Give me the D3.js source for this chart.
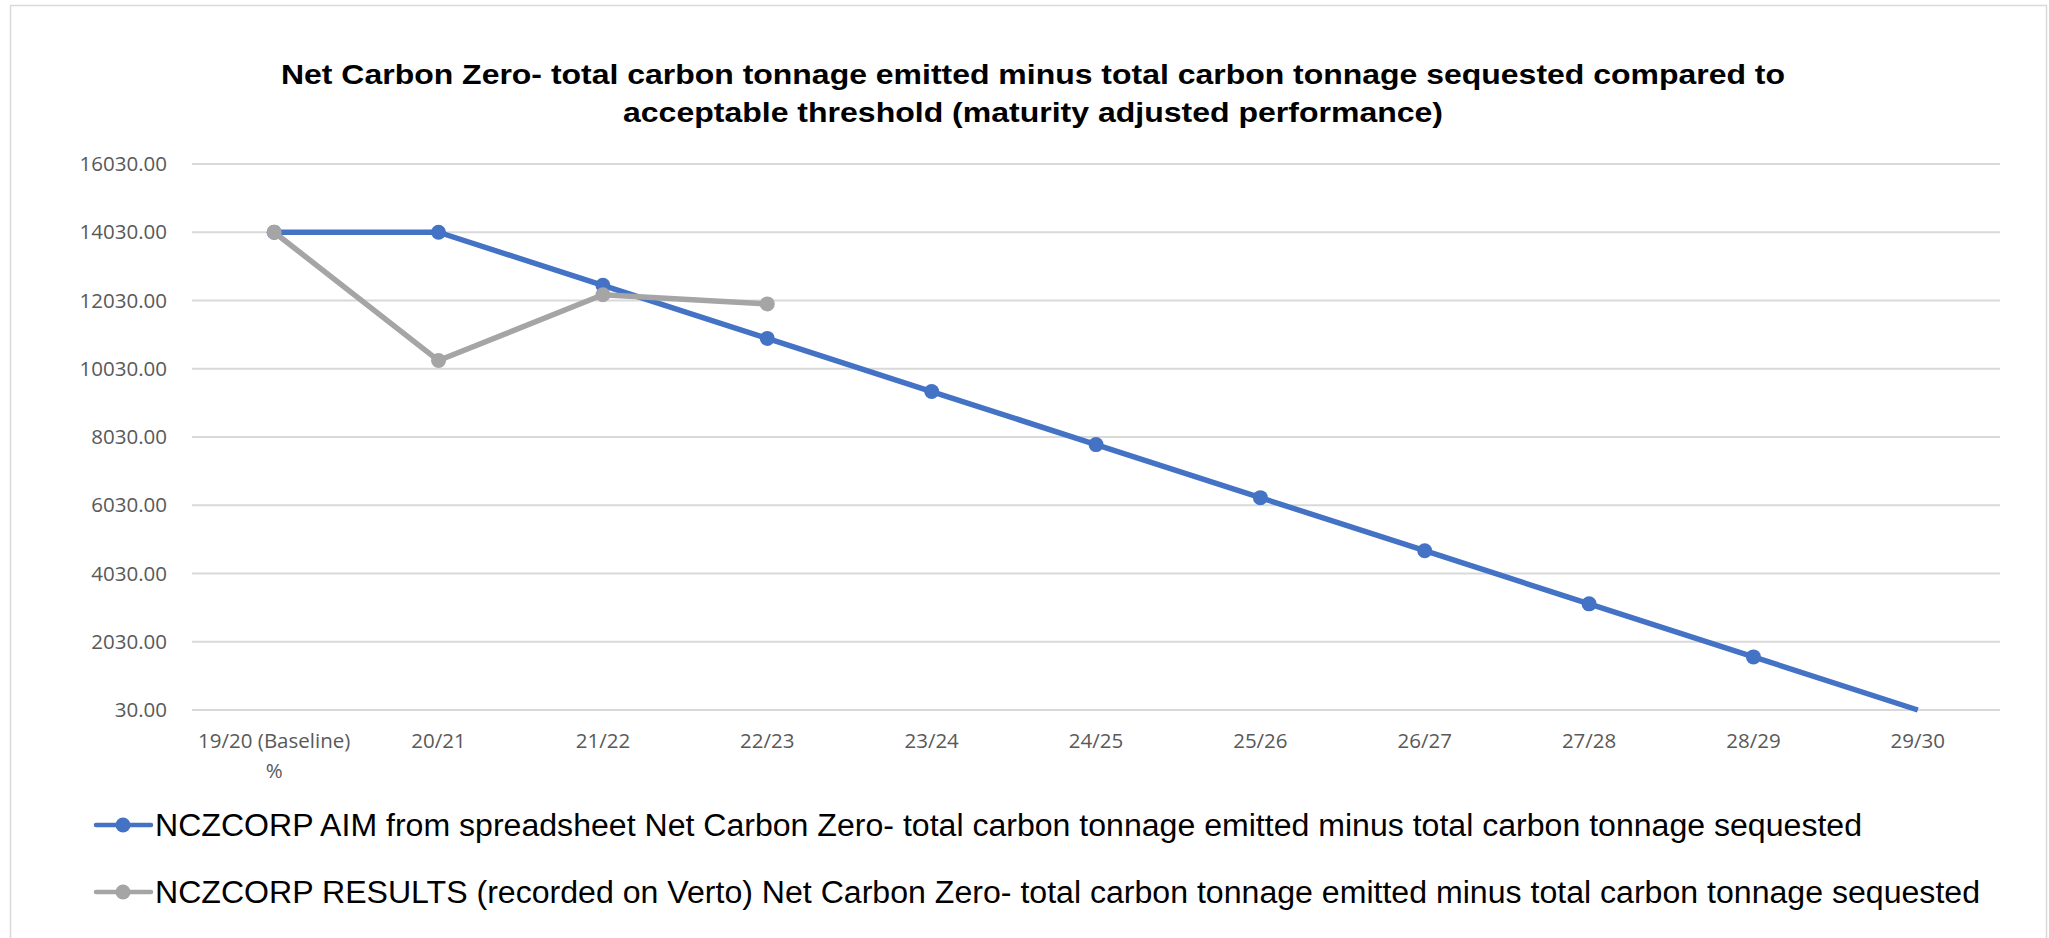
<!DOCTYPE html>
<html>
<head>
<meta charset="utf-8">
<script src="https://cdn.jsdelivr.net/npm/d3@7"></script>
<style>
	body { margin: 0; background: #fff; }
</style>
</head>
<body>
<script>
const categories = ["19/20 (Baseline) %", "20/21", "21/22", "22/23", "23/24", "24/25", "25/26", "26/27", "27/28", "28/29", "29/30"];
const aimValues = [14030, 14030, 12474, 10919, 9363, 7808, 6252, 4697, 3141, 1586, 30];
const resultValues = [14030, 10270, 12200, 11930];
const yTicks = [30, 2030, 4030, 6030, 8030, 10030, 12030, 14030, 16030];

const seriesNames = [
	"NCZCORP AIM from spreadsheet Net Carbon Zero- total carbon tonnage emitted minus total carbon tonnage sequested",
	"NCZCORP RESULTS (recorded on Verto) Net Carbon Zero- total carbon tonnage emitted minus total carbon tonnage sequested"
];
const titleLines = [
	"Net Carbon Zero- total carbon tonnage emitted minus total carbon tonnage sequested compared to",
	"acceptable threshold (maturity adjusted performance)"
];

const WIDTH = 2049;
const HEIGHT = 938;
const MARGIN = { top: 164, right: 49, bottom: 228, left: 192 };
const COLORS = ["#4472C4", "#A5A5A5"];
const LABEL_FONT = "'Open Sans', sans-serif";
const LINE_WIDTH = 5.5;
const POINT_R = 7.5;

const series = [
	{ name: seriesNames[0], color: COLORS[0], data: aimValues.map((v, i) => ({ cat: categories[i], value: v })) },
	{ name: seriesNames[1], color: COLORS[1], data: resultValues.map((v, i) => ({ cat: categories[i], value: v })) }
];

const svg = d3.select("body").append("svg")
	.attr("width", WIDTH)
	.attr("height", HEIGHT);

// chart border
svg.append("rect")
	.attr("x", 10.5)
	.attr("y", 5.5)
	.attr("width", 2036)
	.attr("height", 940)
	.attr("fill", "#fff")
	.attr("stroke", "#D9D9D9")
	.attr("stroke-width", 1.5);

const title = svg.append("text")
	.attr("text-anchor", "middle")
	.attr("font-family", "'Liberation Sans', Arial, sans-serif")
	.attr("font-weight", "bold")
	.attr("font-size", "28px")
	.attr("fill", "#000");
const titleY = [84, 122];
const titleLen = [1504, 820];
titleLines.forEach((t, i) => {
	title.append("tspan")
		.attr("x", 1033)
		.attr("y", titleY[i])
		.attr("textLength", titleLen[i])
		.attr("lengthAdjust", "spacingAndGlyphs")
		.text(t);
});

const x = d3.scaleBand()
	.domain(categories)
	.range([MARGIN.left, WIDTH - MARGIN.right]);

const y = d3.scaleLinear()
	.domain([30, 16030])
	.range([HEIGHT - MARGIN.bottom, MARGIN.top]);

// gridlines
svg.append("g")
	.selectAll("line")
	.data(yTicks)
	.join("line")
	.attr("x1", MARGIN.left)
	.attr("x2", WIDTH - MARGIN.right)
	.attr("y1", d => y(d))
	.attr("y2", d => y(d))
	.attr("stroke", "#D9D9D9")
	.attr("stroke-width", 2);

const yAxis = d3.axisLeft(y)
	.tickValues(yTicks)
	.tickFormat(d3.format(".2f"))
	.tickSize(0)
	.tickPadding(25);
const yAxisGroup = svg.append("g")
	.attr("transform", `translate(${MARGIN.left},0)`)
	.call(yAxis);
yAxisGroup.select(".domain").remove();
yAxisGroup.selectAll(".tick text")
	.attr("font-family", LABEL_FONT)
	.attr("font-size", "20.5px")
	.attr("fill", "#595959");

const xAxis = d3.axisBottom(x)
	.tickSize(0)
	.tickPadding(0);
const xAxisGroup = svg.append("g")
	.attr("transform", `translate(0,${HEIGHT - MARGIN.bottom})`)
	.call(xAxis);
xAxisGroup.select(".domain").remove();
xAxisGroup.selectAll(".tick text")
	.attr("font-family", LABEL_FONT)
	.attr("font-size", "20.5px")
	.attr("fill", "#595959")
	.attr("dy", null)
	.attr("y", 38)
	.each(function (d) {
		// wrap the baseline label onto two lines like the original
		const el = d3.select(this);
		const parts = d.endsWith(" %") ? [d.slice(0, -2), "%"] : [d];
		el.text(null);
		parts.forEach((p, i) => {
			el.append("tspan")
				.attr("x", 0)
				.attr("dy", i === 0 ? 0 : 30)
				.text(p);
		});
	});

const line = d3.line()
	.x(d => x(d.cat) + x.bandwidth() / 2)
	.y(d => y(d.value));

series.forEach(s => {
	const g = svg.append("g");
	g.append("path")
		.datum(s.data)
		.attr("fill", "none")
		.attr("stroke", s.color)
		.attr("stroke-width", LINE_WIDTH)
		.attr("stroke-linejoin", "round")
		.attr("d", line);
	// the last aim point (29/30) has no marker in the original
	g.selectAll("circle")
		.data(s.data.slice(0, s.data.length - (s === series[0] ? 1 : 0)))
		.join("circle")
		.attr("cx", d => x(d.cat) + x.bandwidth() / 2)
		.attr("cy", d => y(d.value))
		.attr("r", POINT_R)
		.attr("fill", s.color);
});

// legend
const legendY = [825, 892];
const legendLen = [1707, 1825];
series.forEach((s, i) => {
	const g = svg.append("g")
		.attr("transform", `translate(0,${legendY[i]})`);
	g.append("line")
		.attr("x1", 96)
		.attr("x2", 151)
		.attr("stroke", s.color)
		.attr("stroke-width", 4.5)
		.attr("stroke-linecap", "round");
	g.append("circle")
		.attr("cx", 123)
		.attr("r", POINT_R)
		.attr("fill", s.color);
	g.append("text")
		.attr("x", 155)
		.attr("dominant-baseline", "central")
		.attr("font-family", "'Liberation Sans', Arial, sans-serif")
		.attr("font-size", "31px")
		.attr("fill", "#000")
		.attr("textLength", legendLen[i])
		.attr("lengthAdjust", "spacingAndGlyphs")
		.text(s.name);
});
</script>
</body>
</html>
